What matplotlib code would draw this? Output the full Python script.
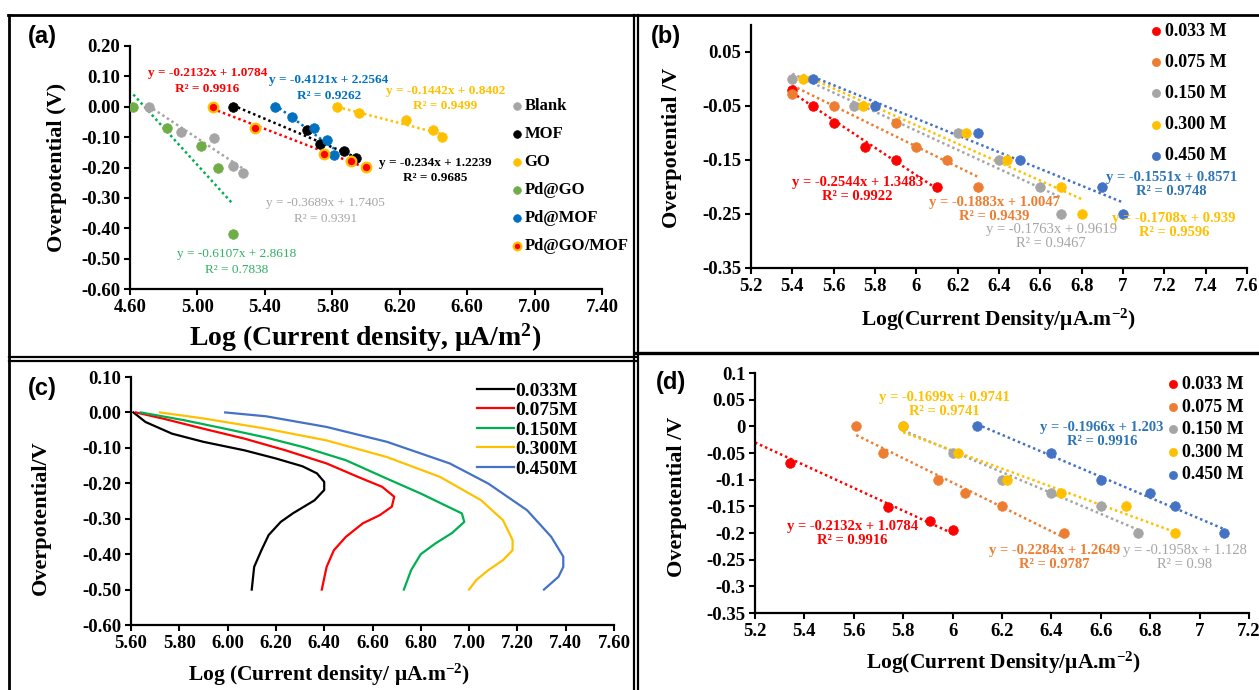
import numpy as np
import matplotlib
matplotlib.use("Agg")
import matplotlib.pyplot as plt
from matplotlib.lines import Line2D
from matplotlib.ticker import FuncFormatter

plt.rcParams['font.family'] = ['Liberation Serif', 'DejaVu Serif']
plt.rcParams['font.weight'] = 'bold'
plt.rcParams['axes.unicode_minus'] = False
plt.rcParams['mathtext.fontset'] = 'custom'
plt.rcParams['mathtext.rm'] = 'Liberation Serif:bold'
plt.rcParams['mathtext.it'] = 'Liberation Serif:bold'
plt.rcParams['mathtext.bf'] = 'Liberation Serif:bold'

W, H = 1259, 690

# ---------------- panel (a) data ----------------
a_names = ["Blank", "MOF", "GO", "Pd@GO", "Pd@MOF", "Pd@GO/MOF"]
blank_x = [4.71, 4.90, 5.10, 5.21, 5.27]
blank_y = [0.00, -0.083, -0.103, -0.195, -0.217]
mof_x = [5.21, 5.65, 5.73, 5.87, 5.94]
mof_y = [0.00, -0.078, -0.123, -0.145, -0.170]
go_x = [5.83, 5.96, 6.24, 6.40, 6.45]
go_y = [0.00, -0.020, -0.043, -0.077, -0.100]
pdgo_x = [4.62, 4.82, 5.02, 5.12, 5.21]
pdgo_y = [0.00, -0.070, -0.130, -0.200, -0.420]
pdmof_x = [5.46, 5.56, 5.69, 5.77, 5.81]
pdmof_y = [0.00, -0.035, -0.070, -0.110, -0.160]
pdgomof_x = [5.09, 5.34, 5.75, 5.91, 6.00]
pdgomof_y = [0.00, -0.070, -0.155, -0.180, -0.197]

a_slope = [-0.3689, -0.234, -0.1442, -0.6107, -0.4121, -0.2132]
a_icpt = [1.7405, 1.2239, 0.8402, 2.8618, 2.2564, 1.0784]
a_eq = ["y = -0.3689x + 1.7405", "y = -0.234x + 1.2239", "y = -0.1442x + 0.8402",
        "y = -0.6107x + 2.8618", "y = -0.4121x + 2.2564", "y = -0.2132x + 1.0784"]
a_r2 = ["R² = 0.9391", "R² = 0.9685", "R² = 0.9499", "R² = 0.7838", "R² = 0.9262", "R² = 0.9916"]

# ---------------- panel (b) data ----------------
conc = ["0.033 M", "0.075 M", "0.150 M", "0.300 M", "0.450 M"]
b033_x = [5.40, 5.50, 5.60, 5.75, 5.90, 6.10]
b033_y = [-0.020, -0.050, -0.081, -0.125, -0.150, -0.200]
b075_x = [5.40, 5.60, 5.90, 6.00, 6.15, 6.30]
b075_y = [-0.027, -0.050, -0.081, -0.125, -0.150, -0.200]
b150_x = [5.40, 5.70, 6.20, 6.40, 6.60, 6.70]
b150_y = [0.000, -0.050, -0.100, -0.150, -0.200, -0.250]
b300_x = [5.45, 5.74, 6.24, 6.44, 6.70, 6.80]
b300_y = [0.000, -0.050, -0.100, -0.150, -0.200, -0.250]
b450_x = [5.50, 5.80, 6.30, 6.50, 6.90, 7.00]
b450_y = [0.000, -0.050, -0.100, -0.150, -0.200, -0.250]

b_slope = [-0.2544, -0.1883, -0.1763, -0.1708, -0.1551]
b_icpt = [1.3483, 1.0047, 0.9619, 0.939, 0.8571]
b_eq = ["y = -0.2544x + 1.3483", "y = -0.1883x + 1.0047", "y = -0.1763x + 0.9619",
        "y = -0.1708x + 0.939", "y = -0.1551x + 0.8571"]
b_r2 = ["R² = 0.9922", "R² = 0.9439", "R² = 0.9467", "R² = 0.9596", "R² = 0.9748"]

# ---------------- panel (c) data ----------------
c_labels = ["0.033M", "0.075M", "0.150M", "0.300M", "0.450M"]
c033_x = [5.61, 5.66, 5.77, 5.90, 6.07, 6.20, 6.31, 6.37, 6.40, 6.40, 6.36, 6.27, 6.22, 6.17, 6.14, 6.11, 6.10]
c033_y = [0.00, -0.027, -0.060, -0.083, -0.107, -0.130, -0.152, -0.172, -0.196, -0.219, -0.248, -0.285, -0.309, -0.346, -0.389, -0.436, -0.50]
c075_x = [5.62, 5.73, 5.90, 6.07, 6.24, 6.41, 6.54, 6.64, 6.69, 6.68, 6.63, 6.56, 6.49, 6.44, 6.41, 6.39]
c075_y = [0.00, -0.017, -0.046, -0.074, -0.107, -0.144, -0.182, -0.210, -0.238, -0.266, -0.290, -0.313, -0.351, -0.389, -0.436, -0.50]
c150_x = [5.64, 5.82, 5.99, 6.16, 6.32, 6.49, 6.66, 6.80, 6.90, 6.97, 6.98, 6.93, 6.86, 6.80, 6.76, 6.73]
c150_y = [0.00, -0.022, -0.046, -0.071, -0.099, -0.135, -0.187, -0.229, -0.262, -0.285, -0.309, -0.340, -0.370, -0.400, -0.445, -0.50]
c300_x = [5.72, 5.90, 6.16, 6.41, 6.66, 6.88, 7.05, 7.14, 7.18, 7.18, 7.14, 7.08, 7.03, 7.00]
c300_y = [0.00, -0.017, -0.046, -0.079, -0.126, -0.182, -0.248, -0.304, -0.360, -0.389, -0.417, -0.445, -0.473, -0.50]
c450_x = [5.99, 6.16, 6.41, 6.66, 6.92, 7.08, 7.24, 7.34, 7.39, 7.39, 7.37, 7.31]
c450_y = [0.00, -0.011, -0.041, -0.083, -0.144, -0.201, -0.276, -0.351, -0.407, -0.436, -0.464, -0.50]

# ---------------- panel (d) data ----------------
d033_x = [5.34, 5.74, 5.91, 6.00]
d033_y = [-0.069, -0.152, -0.178, -0.195]
d075_x = [5.61, 5.72, 5.94, 6.05, 6.20, 6.45]
d075_y = [0.000, -0.050, -0.100, -0.125, -0.150, -0.200]
d150_x = [5.80, 6.00, 6.20, 6.40, 6.60, 6.75]
d150_y = [0.000, -0.050, -0.100, -0.125, -0.150, -0.200]
d300_x = [5.80, 6.02, 6.22, 6.44, 6.70, 6.90]
d300_y = [0.000, -0.050, -0.100, -0.125, -0.150, -0.200]
d450_x = [6.10, 6.40, 6.60, 6.80, 6.90, 7.10]
d450_y = [0.000, -0.050, -0.100, -0.125, -0.150, -0.200]

d_slope = [-0.2132, -0.2284, -0.1958, -0.1699, -0.1966]
d_icpt = [1.0784, 1.2649, 1.128, 0.9741, 1.203]
d_start = [5.20, 5.61, 5.80, 5.80, 6.10]   # red trendline is extended back to 5.2
d_eq = ["y = -0.2132x + 1.0784", "y = -0.2284x + 1.2649", "y = -0.1958x + 1.128",
        "y = -0.1699x + 0.9741", "y = -0.1966x + 1.203"]
d_r2 = ["R² = 0.9916", "R² = 0.9787", "R² = 0.98", "R² = 0.9741", "R² = 0.9916"]

# colours
a_cols = ["#A5A5A5", "#000000", "#FFC000", "#70AD47", "#0070C0", "#FF0000"]
a_line_cols = ["#A5A5A5", "#000000", "#FFC000", "#00B050", "#0070C0", "#FF0000"]
a_txt_cols = ["#A5A5A5", "#000000", "#FFC000", "#2EAF62", "#0070C0", "#FF0000"]
conc_cols = ["#FF0000", "#ED7D31", "#A5A5A5", "#FFC000", "#4472C4"]
conc_txt = ["#FF0000", "#ED7D31", "#A5A5A5", "#FFC000", "#2E75B6"]
c_cols = ["#000000", "#FF0000", "#00B050", "#FFC000", "#4472C4"]


def rect(x0, y0, x1, y1):
    # pixel box -> figure fraction [left, bottom, width, height]
    return [x0 / W, 1 - y1 / H, (x1 - x0) / W, (y1 - y0) / H]


def fpt(x, y):
    return (x / W, 1 - y / H)


def style_axes(ax):
    for s in ["top", "right"]:
        ax.spines[s].set_visible(False)
    for s in ["left", "bottom"]:
        ax.spines[s].set_linewidth(1.6)
    ax.tick_params(direction="out", length=4, width=1.5, labelsize=13.5, pad=3)
    for lab in ax.get_xticklabels() + ax.get_yticklabels():
        lab.set_fontweight("bold")


def gfmt(v, p):
    if abs(v) < 1e-9:
        return "0"
    return ("%.2f" % v).rstrip("0").rstrip(".")


fig = plt.figure(figsize=(W / 100, H / 100), dpi=100)

# ================= (a) =================
ax = fig.add_axes(rect(130, 46, 602, 289))
a_x = [blank_x, mof_x, go_x, pdgo_x, pdmof_x, pdgomof_x]
a_y = [blank_y, mof_y, go_y, pdgo_y, pdmof_y, pdgomof_y]
handles = []
for i in range(6):
    xs = np.array([min(a_x[i]), max(a_x[i])])
    ax.plot(xs, a_slope[i] * xs + a_icpt[i], linestyle=(0, (1, 1.2)), lw=1.8,
            color=a_line_cols[i], zorder=2)
for i in range(6):
    ec = "#FFC000" if i == 5 else a_cols[i]
    h = ax.scatter(a_x[i], a_y[i], s=48, color=a_cols[i], edgecolors=ec,
                   linewidths=1.6 if i == 5 else 0.5, zorder=3, label=a_names[i])
    handles.append(h)
ax.set_xlim(4.6, 7.4)
ax.set_ylim(-0.6, 0.2)
ax.set_xticks(np.round(np.arange(4.6, 7.41, 0.4), 2))
ax.set_yticks(np.round(np.arange(-0.6, 0.21, 0.1), 2))
ax.xaxis.set_major_formatter(FuncFormatter(lambda v, p: "%.2f" % v))
ax.yaxis.set_major_formatter(FuncFormatter(lambda v, p: "%.2f" % (0 if abs(v) < 1e-9 else v)))
style_axes(ax)
a_txt_pos = [(5.76, -0.316), (6.41, -0.184), (6.47, 0.053), (5.23, -0.486), (5.78, 0.088), (5.06, 0.110)]
for i in range(6):
    tx, ty = a_txt_pos[i]
    wt = "normal" if i in (0, 3) else "bold"
    ax.text(tx, ty, a_eq[i], color=a_txt_cols[i], fontsize=9.5, fontweight=wt, ha="center", va="center")
    ax.text(tx, ty - 0.052, a_r2[i], color=a_txt_cols[i], fontsize=9.5, fontweight=wt, ha="center", va="center")
ax.legend(handles=handles, loc="upper left", bbox_to_anchor=fpt(512, 98), bbox_transform=fig.transFigure,
          frameon=False, fontsize=12, handlelength=0.6, handletextpad=0.15, labelspacing=0.72,
          borderpad=0, borderaxespad=0, markerscale=0.8)

# ================= (b) =================
ax = fig.add_axes(rect(751, 25, 1247, 268))
b_x = [b033_x, b075_x, b150_x, b300_x, b450_x]
b_y = [b033_y, b075_y, b150_y, b300_y, b450_y]
handles = []
for i in range(5):
    xs = np.array([min(b_x[i]), max(b_x[i])])
    ax.plot(xs, b_slope[i] * xs + b_icpt[i], linestyle=(0, (1, 1.2)), lw=1.8,
            color=conc_cols[i], zorder=2)
for i in range(5):
    h = ax.scatter(b_x[i], b_y[i], s=48, color=conc_cols[i], edgecolors=conc_cols[i],
                   linewidths=0.5, zorder=3, label=conc[i])
    handles.append(h)
ax.set_xlim(5.2, 7.6)
ax.set_ylim(-0.35, 0.1)
ax.set_xticks(np.round(np.arange(5.2, 7.61, 0.2), 2))
ax.set_yticks([0.05, -0.05, -0.15, -0.25, -0.35])
ax.xaxis.set_major_formatter(FuncFormatter(gfmt))
ax.yaxis.set_major_formatter(FuncFormatter(gfmt))
style_axes(ax)
b_txt_pos = [(5.716, -0.191), (6.376, -0.229), (6.653, -0.278), (7.246, -0.259), (7.233, -0.183)]
for i in range(5):
    tx, ty = b_txt_pos[i]
    wt = "normal" if i == 2 else "bold"
    ax.text(tx, ty, b_eq[i], color=conc_txt[i], fontsize=10.5, fontweight=wt, ha="center", va="center")
    ax.text(tx, ty - 0.026, b_r2[i], color=conc_txt[i], fontsize=10.5, fontweight=wt, ha="center", va="center")
ax.legend(handles=handles, loc="upper left", bbox_to_anchor=fpt(1151, 23), bbox_transform=fig.transFigure,
          frameon=False, fontsize=13, handlelength=0.55, handletextpad=0.2, labelspacing=0.78,
          borderpad=0, borderaxespad=0, markerscale=0.85)

# ================= (c) =================
ax = fig.add_axes(rect(131, 377, 614, 625))
c_x = [c033_x, c075_x, c150_x, c300_x, c450_x]
c_y = [c033_y, c075_y, c150_y, c300_y, c450_y]
for i in range(5):
    ax.plot(c_x[i], c_y[i], color=c_cols[i], lw=1.6, label=c_labels[i])
ax.set_xlim(5.6, 7.6)
ax.set_ylim(-0.6, 0.1)
ax.set_xticks(np.round(np.arange(5.6, 7.61, 0.2), 2))
ax.set_yticks(np.round(np.arange(-0.6, 0.11, 0.1), 2))
ax.xaxis.set_major_formatter(FuncFormatter(lambda v, p: "%.2f" % v))
ax.yaxis.set_major_formatter(FuncFormatter(lambda v, p: "%.2f" % (0 if abs(v) < 1e-9 else v)))
style_axes(ax)
ax.legend(loc="upper left", bbox_to_anchor=fpt(477, 382), bbox_transform=fig.transFigure,
          frameon=False, fontsize=14, handlelength=1.9, handletextpad=0.05, labelspacing=0.1,
          borderpad=0, borderaxespad=0)

# ================= (d) =================
ax = fig.add_axes(rect(755, 373, 1249, 613))
d_x = [d033_x, d075_x, d150_x, d300_x, d450_x]
d_y = [d033_y, d075_y, d150_y, d300_y, d450_y]
handles = []
for i in range(5):
    xs = np.array([d_start[i], max(d_x[i])])
    ax.plot(xs, d_slope[i] * xs + d_icpt[i], linestyle=(0, (1, 1.2)), lw=1.8,
            color=conc_cols[i], zorder=2)
for i in range(5):
    h = ax.scatter(d_x[i], d_y[i], s=48, color=conc_cols[i], edgecolors=conc_cols[i],
                   linewidths=0.5, zorder=3, label=conc[i])
    handles.append(h)
ax.set_xlim(5.2, 7.2)
ax.set_ylim(-0.35, 0.1)
ax.set_xticks(np.round(np.arange(5.2, 7.21, 0.2), 2))
ax.set_yticks(np.round(np.arange(-0.35, 0.101, 0.05), 2))
ax.xaxis.set_major_formatter(FuncFormatter(gfmt))
ax.yaxis.set_major_formatter(FuncFormatter(gfmt))
style_axes(ax)
d_txt_pos = [(5.595, -0.188), (6.413, -0.233), (6.94, -0.233), (5.968, 0.054), (6.605, -0.002)]
for i in range(5):
    tx, ty = d_txt_pos[i]
    wt = "normal" if i == 2 else "bold"
    ax.text(tx, ty, d_eq[i], color=conc_txt[i], fontsize=10.5, fontweight=wt, ha="center", va="center")
    ax.text(tx, ty - 0.026, d_r2[i], color=conc_txt[i], fontsize=10.5, fontweight=wt, ha="center", va="center")
ax.legend(handles=handles, loc="upper left", bbox_to_anchor=fpt(1168, 376), bbox_transform=fig.transFigure,
          frameon=False, fontsize=13, handlelength=0.55, handletextpad=0.2, labelspacing=0.31,
          borderpad=0, borderaxespad=0, markerscale=0.85)

# ---------------- axis titles and panel letters ----------------
fig.text(*fpt(365, 338), "Log (Current density, μA/m$^{2}$)", fontsize=20, ha="center", va="center")
fig.text(*fpt(57, 167), "Overpotential (V)", fontsize=16, rotation=90, ha="center", va="center")
fig.text(*fpt(998, 320), "Log(Current Density/μA.m$^{-2}$)", fontsize=15.5, ha="center", va="center")
fig.text(*fpt(672, 148), "Overpotential /V", fontsize=16, rotation=90, ha="center", va="center")
fig.text(*fpt(329, 675), "Log (Current density/ μA.m$^{-2}$)", fontsize=15.5, ha="center", va="center")
fig.text(*fpt(41, 518), "Overpotential/V", fontsize=16, rotation=90, ha="center", va="center")
fig.text(*fpt(1003, 663), "Log(Current Density/μA.m$^{-2}$)", fontsize=15.5, ha="center", va="center")
fig.text(*fpt(677, 497), "Overpotential /V", fontsize=16, rotation=90, ha="center", va="center")

for lbl, (px, py) in zip(["(a)", "(b)", "(c)", "(d)"], [(42, 37), (666, 37), (42, 389), (671, 383)]):
    fig.text(*fpt(px, py), lbl, fontsize=17, fontweight="bold", family="Liberation Sans",
             ha="center", va="center")

# ---------------- panel frames ----------------
def hline(y, x0, x1, lw):
    fig.add_artist(Line2D([x0 / W, x1 / W], [1 - y / H, 1 - y / H], color="black", lw=lw))


def vline(x, y0, y1, lw):
    fig.add_artist(Line2D([x / W, x / W], [1 - y0 / H, 1 - y1 / H], color="black", lw=lw))


hline(15, 8, W, 2.0)
vline(9, 15, H, 2.0)
vline(633.5, 15, H, 1.6)
vline(638, 15, H, 1.6)
hline(357, 9, 636, 1.6)
hline(361, 9, 636, 1.6)
hline(353, 636, W, 2.4)

fig.savefig("out.png", dpi=100)
